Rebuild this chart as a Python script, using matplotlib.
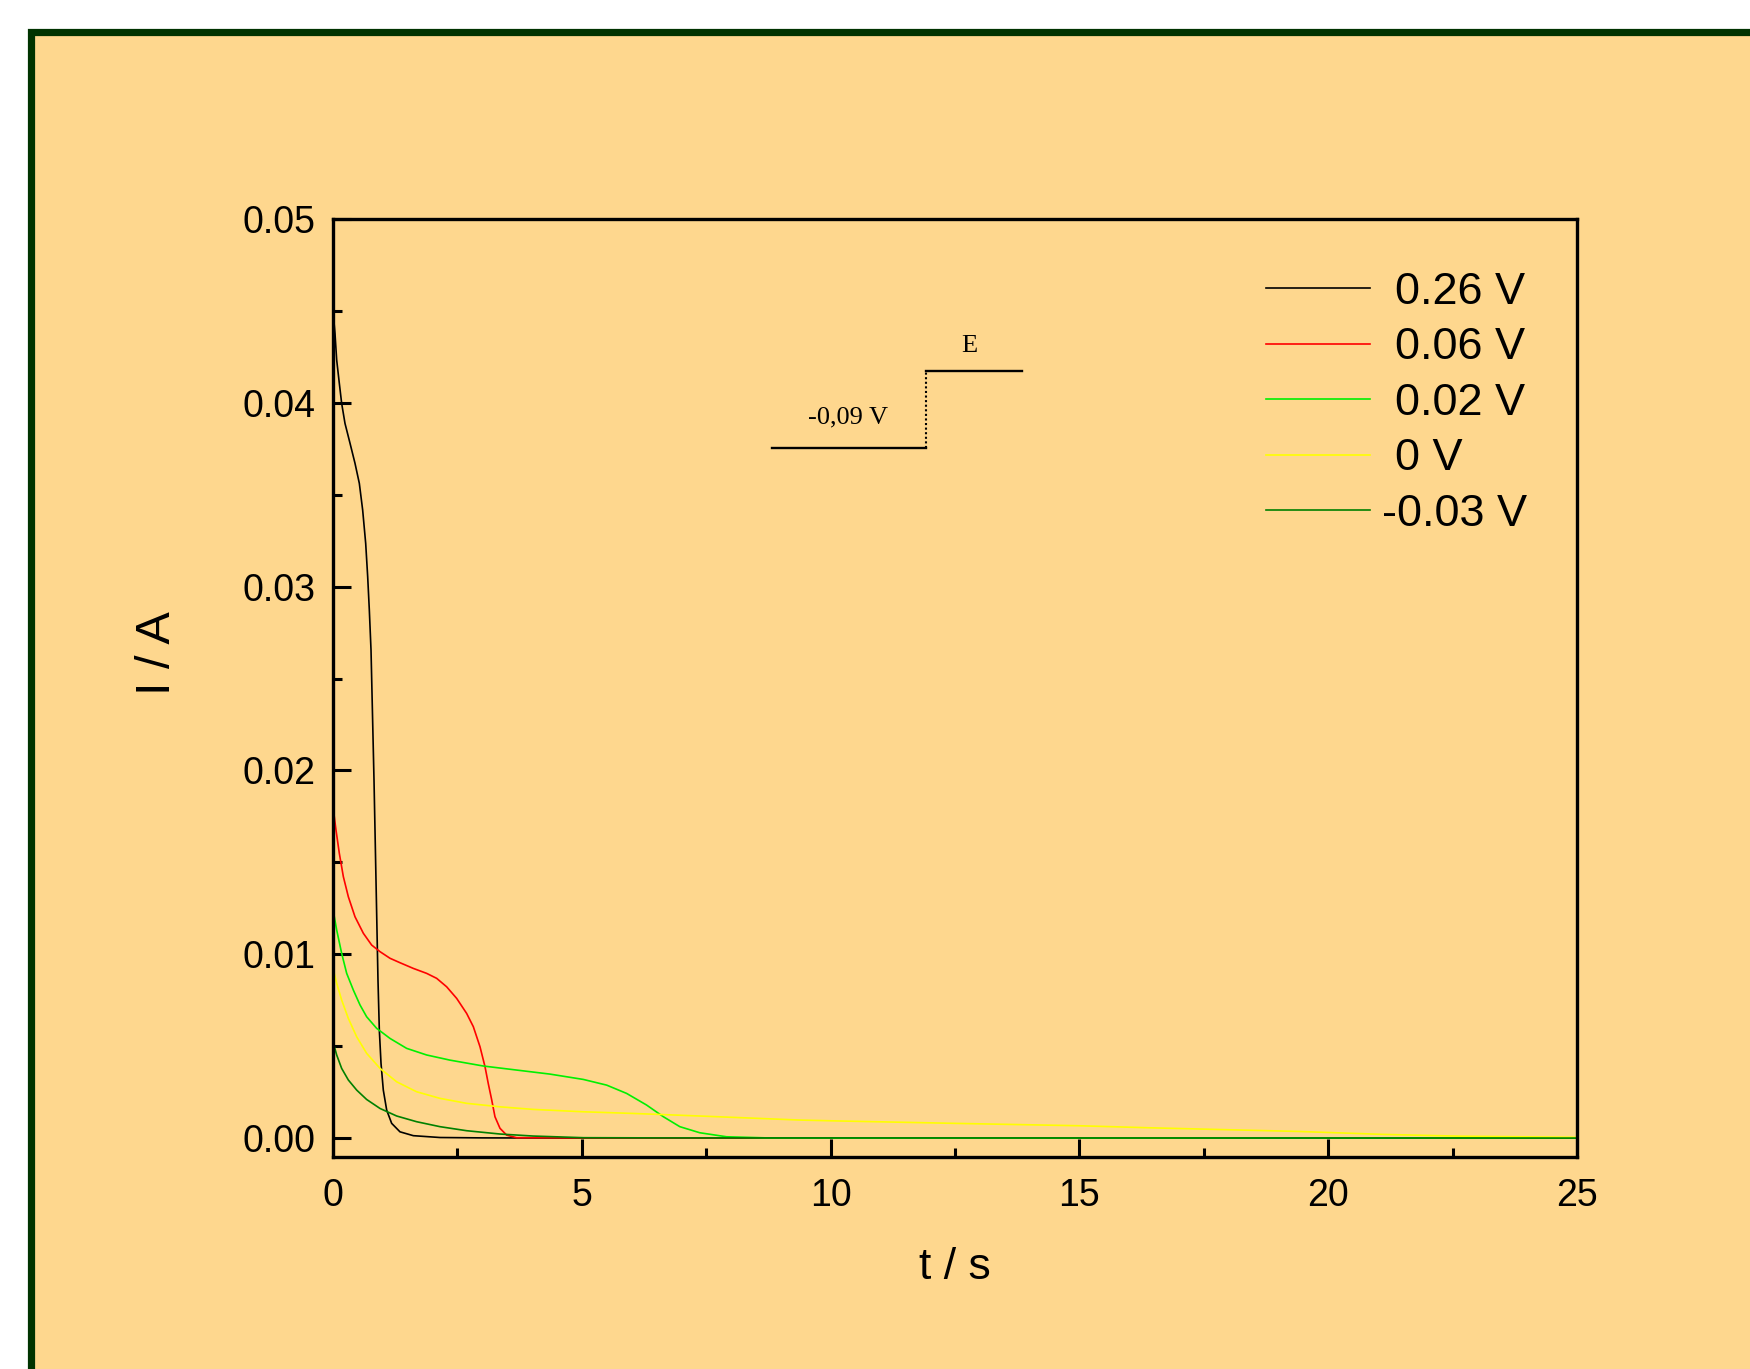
import matplotlib
matplotlib.use("Agg")
import matplotlib.pyplot as plt
from matplotlib.patches import Rectangle
from matplotlib.ticker import MultipleLocator, FormatStrFormatter
from matplotlib.transforms import ScaledTranslation

# ---------------- data ----------------
labels = ["0.26 V", "0.06 V", "0.02 V", "0 V", "-0.03 V"]
colors = ["#000000", "#FF0000", "#00F000", "#FFFF00", "#008000"]

t_026 = [0, 0.04, 0.074, 0.127, 0.174, 0.241, 0.342, 0.442, 0.529, 0.596, 0.657,
         0.697, 0.730, 0.764, 0.824, 0.844, 0.864, 0.884, 0.904, 0.931, 0.965,
         1.011, 1.079, 1.179, 1.346, 1.614, 2.15, 3.0, 5.0, 25.0]
i_026 = [0.0450, 0.04378, 0.04233, 0.04106, 0.03997, 0.03888, 0.0378, 0.03671,
         0.03562, 0.03417, 0.03235, 0.03054, 0.02873, 0.02655, 0.01948, 0.01676,
         0.01404, 0.01132, 0.0086, 0.00588, 0.00406, 0.00261, 0.00152, 0.0008,
         0.00034, 0.00013, 0.00003, 0.00001, 0.0, 0.0]

t_006 = [0, 0.06, 0.127, 0.208, 0.308, 0.442, 0.610, 0.777, 0.945, 1.146, 1.346,
         1.614, 1.882, 2.083, 2.284, 2.485, 2.686, 2.82, 2.954, 3.055, 3.12, 3.19,
         3.255, 3.356, 3.49, 3.69, 5.0, 25.0]
i_006 = [0.01803, 0.01676, 0.01549, 0.01422, 0.01313, 0.01204, 0.01114, 0.0105,
         0.01014, 0.00978, 0.00954, 0.00923, 0.00896, 0.00869, 0.00823, 0.0076,
         0.00678, 0.00606, 0.00497, 0.00388, 0.00297, 0.00207, 0.00116, 0.00053,
         0.00016, 0.00002, 0.00001, 0.0]

t_002 = [0, 0.074, 0.174, 0.275, 0.409, 0.543, 0.676, 0.877, 1.146, 1.48, 1.882,
         2.351, 3.02, 3.69, 4.36, 5.03, 5.5, 5.9, 6.3, 6.64, 6.97, 7.37, 7.91, 8.71,
         10.0, 25.0]
i_002 = [0.01244, 0.01132, 0.01005, 0.00896, 0.00805, 0.00724, 0.0066, 0.00597,
         0.00542, 0.00488, 0.00452, 0.00424, 0.00392, 0.0037, 0.00348, 0.00319,
         0.00288, 0.00243, 0.0018, 0.00116, 0.00062, 0.00029, 0.00007, 0.00001,
         0.0, 0.0]

t_000 = [0, 0.074, 0.174, 0.308, 0.476, 0.676, 0.945, 1.28, 1.68, 2.15, 2.686,
         3.356, 4.02, 5.03, 6.03, 7.37, 9.38, 10.0, 12.5, 15.0, 16.4, 19.4, 21.1,
         22.7, 25.0]
i_000 = [0.00923, 0.00842, 0.00751, 0.00651, 0.00551, 0.00461, 0.00379, 0.00306,
         0.00252, 0.00216, 0.00189, 0.0017, 0.00156, 0.00143, 0.00134, 0.0012,
         0.00098, 0.00094, 0.00080, 0.00067, 0.00056, 0.00036, 0.00020, 0.00010,
         0.00004]

t_m003 = [0, 0.074, 0.174, 0.308, 0.476, 0.676, 0.945, 1.28, 1.68, 2.15, 2.686,
          3.356, 4.02, 5.03, 6.5, 25.0]
i_m003 = [0.00524, 0.00452, 0.00379, 0.00316, 0.00261, 0.0021, 0.00161, 0.0012,
          0.00089, 0.00062, 0.0004, 0.00022, 0.00011, 0.00002, 0.00001, 0.0]

series_t = [t_026, t_006, t_002, t_000, t_m003]
series_i = [i_026, i_006, i_002, i_000, i_m003]

# potential-step sketch (inset), in data units
step_low_t = [8.82, 11.92]
step_low_i = [0.03755, 0.03755]
step_high_t = [11.92, 13.85]
step_high_i = [0.04174, 0.04174]

# ---------------- figure ----------------
W, H = 1750, 1369
fig = plt.figure(figsize=(W / 100, H / 100), dpi=100, facecolor="white")
bg = "#FED78E"
frame = Rectangle((31.5 / W, -0.1), 1.2, 1 - 31.5 / H + 0.1,
                  transform=fig.transFigure, facecolor=bg, edgecolor="#003300",
                  linewidth=5.2, zorder=-10)
fig.add_artist(frame)

ax = fig.add_axes([333 / W, 1 - 1157 / H, (1577 - 333) / W, (1157 - 219) / H])
ax.set_facecolor("none")
ax.set_zorder(5)

for t, i, c, lab in zip(series_t, series_i, colors, labels):
    ax.plot(t, i, color=c, lw=1.2, label=lab, solid_joinstyle="round")

ax.set_xlim(0, 25)
ax.set_ylim(-0.00103, 0.05)

ax.xaxis.set_major_locator(MultipleLocator(5))
ax.xaxis.set_minor_locator(MultipleLocator(2.5))
ax.yaxis.set_major_locator(MultipleLocator(0.01))
ax.yaxis.set_minor_locator(MultipleLocator(0.005))
ax.yaxis.set_major_formatter(FormatStrFormatter("%.2f"))

font = "Liberation Sans"
ax.tick_params(which="both", direction="in", top=False, right=False, width=2.2)
ax.tick_params(which="major", length=13)
ax.tick_params(which="minor", length=6.5)
ax.tick_params(axis="y", which="major", pad=12.5, labelsize=27)
ax.tick_params(axis="x", which="major", pad=15, labelsize=27)
for lab in ax.get_xticklabels() + ax.get_yticklabels():
    lab.set_fontfamily(font)
for sp in ax.spines.values():
    sp.set_linewidth(2.4)

ax.set_xlabel("t / s", fontsize=32, fontfamily=font, labelpad=24)
ax.set_ylabel("I / A", fontsize=35, fontfamily=font)
ax.yaxis.set_label_coords(-0.123, 0.537)

leg = ax.legend(loc="upper left", bbox_to_anchor=(1266 / W, 1 - 272 / H),
                bbox_transform=fig.transFigure, frameon=False,
                prop={"family": font, "size": 32.5}, handlelength=2.3,
                handletextpad=0.56, labelspacing=0.32, borderpad=0,
                borderaxespad=0)
# the minus sign of the last entry hangs to the left in the original
last = leg.get_texts()[-1]
last.set_transform(last.get_transform() +
                   ScaledTranslation(-0.13, 0, fig.dpi_scale_trans))

# inset sketch of the potential step
ax.plot(step_low_t, step_low_i, color="black", lw=1.7)
ax.plot(step_high_t, step_high_i, color="black", lw=1.7)
ax.plot([step_low_t[1], step_low_t[1]], [step_low_i[1], step_high_i[0]],
        color="black", lw=1.5, ls=(0, (1, 1.2)))
ax.text(10.35, 0.0392, "-0,09 V", fontsize=19, fontfamily="Liberation Serif",
        ha="center", va="center")
ax.text(12.78, 0.0431, "E", fontsize=19, fontfamily="Liberation Serif",
        ha="center", va="center")

fig.savefig("out.png", dpi=100, facecolor="white")
